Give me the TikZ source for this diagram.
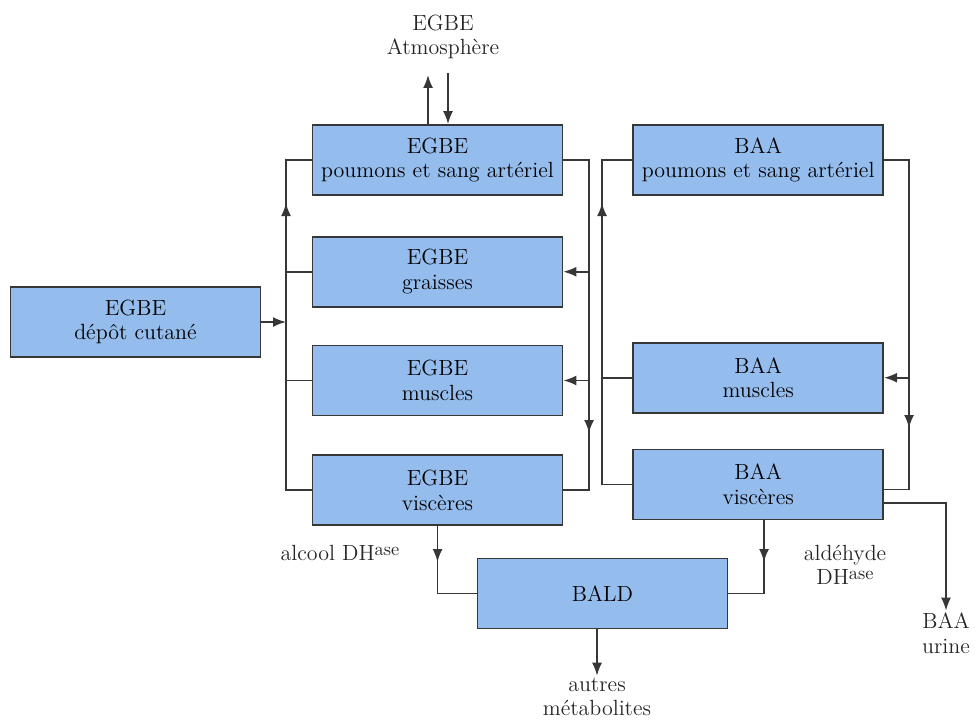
\documentclass[tikz,border=0pt]{standalone}
\usetikzlibrary{arrows.meta, positioning}
\definecolor{boxblue}{RGB}{148,188,236}
\definecolor{linegray}{RGB}{55,55,55}
\newcommand{\ase}{\raisebox{0.55ex}{\fontsize{10.5}{10.5}\selectfont ase}}

\begin{document}
\begin{tikzpicture}[
    x=0.02cm, y=-0.02cm,
    font=\fontsize{12.5}{14}\selectfont,
    box/.style={rectangle, draw=linegray, fill=boxblue, line width=1pt, minimum height=1.4cm, minimum width=5cm, align=center, inner sep=2pt},
    lbl/.style={align=center, inner sep=1pt, text=black!85},
    arrow/.style={-{Latex[length=2.6mm, width=2mm]}, line width=1pt, draw=linegray},
    link/.style={line width=1pt, draw=linegray},
    node distance=0.76cm and 1.38cm
]
\useasboundingbox (0,0) rectangle (979,720);

% Nodes
\node[box] (epou) at (437.5,160) {EGBE\\poumons et sang artériel};
\node[box, below=0.8cm of epou] (egra) {EGBE\\graisses};
\node[box, below=0.74cm of egra] (emus) {EGBE\\muscles};
\node[box, below=of emus] (evis) {EGBE\\viscères};
\node[box, right=of epou] (bpou) {BAA\\poumons et sang artériel};
\node[box, below=2.92cm of bpou] (bmus) {BAA\\muscles};
\node[box, below=0.7cm of bmus] (bvis) {BAA\\viscères};
\node[box] (depot) at (135.5,322) {EGBE\\dépôt cutané};
\node[box] (bald) at (602.5,593.5) {BALD};
\node[lbl] (atmo) at (443,37) {EGBE\\Atmosphère};
\node[lbl] at (340,553) {alcool DH\ase};
\node[lbl] at (845,565) {aldéhyde\\DH\ase};
\node[lbl] (urine) at (946,633) {BAA\\urine};
\node[lbl] (autres) at (597,697) {autres\\métabolites};

% Arrows
\coordinate (atup) at (428,75);
\coordinate (atdn) at (448,73);
\draw[arrow] (epou.north -| atup) -- (atup);
\draw[arrow] (atdn) -- (epou.north -| atdn);

% EGBE, left side
\coordinate (lbup) at (286,203);
\draw[link] (evis.west) -| (lbup) |- (epou.west);
\draw[arrow] (evis.west) -| (lbup);
\draw[link] (egra.west) -- (egra.west -| lbup);
\draw[link] (emus.west) -- (emus.west -| lbup);
\draw[arrow] (depot.east) -- (depot.east -| lbup);

% EGBE, right side
\coordinate (rbdown) at (589,433);
\draw[link] (epou.east) -| (rbdown) |- (evis.east);
\draw[arrow] (epou.east) -| (rbdown);
\draw[arrow] (egra.east -| rbdown) -- (egra.east);
\draw[arrow] (emus.east -| rbdown) -- (emus.east);

% BAA, left side
\coordinate (blup) at (602,203);
\draw[link] (bvis.west) -| (blup) |- (bpou.west);
\draw[arrow] (bvis.west) -| (blup);
\draw[link] (bmus.west) -- (bmus.west -| blup);

% BAA, right side
\coordinate (brdown) at (909,428);
\draw[link] (bpou.east) -| (brdown) |- ([yshift=-0.1cm]bvis.east);
\draw[arrow] (bpou.east) -| (brdown);
\draw[arrow] (bmus.east -| brdown) -- (bmus.east);
\draw[arrow] ([yshift=-0.37cm]bvis.east) -| (urine);

% metabolism
\coordinate (adh) at (437.5,562);
\draw[link] (evis.south) -- (adh) |- (bald.west);
\draw[arrow] (evis.south) -- (adh);
\coordinate (aldh) at (764,562);
\draw[link] (bvis.south -| aldh) -- (aldh) |- (bald.east);
\draw[arrow] (bvis.south -| aldh) -- (aldh);
\draw[arrow] (bald.south -| autres) -- (autres);

\end{tikzpicture}
\end{document}
